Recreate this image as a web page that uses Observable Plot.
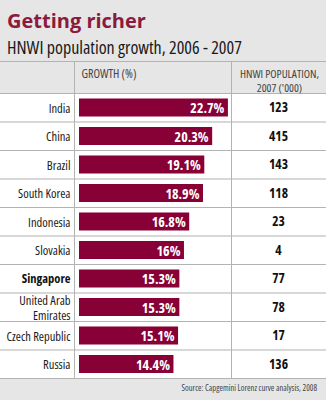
<!DOCTYPE html>
<html>
<head>
<meta charset="utf-8">
<script src="https://cdn.jsdelivr.net/npm/d3@7"></script>
<script src="https://cdn.jsdelivr.net/npm/@observablehq/plot@0.6"></script>
<style>
  html, body { margin: 0; padding: 0; background: #e6e6e6; }
  #wrap { width: 326px; height: 400px; position: relative; overflow: hidden; background: #e6e6e6; }
  #head { position: relative; height: 61px; border-bottom: 1px solid #b3b3b3; }
  #title { position: absolute; left: 7px; top: 10px; font: bold 20px/22px "Open Sans", sans-serif; color: #8b1a3d; white-space: nowrap; }
  #subtitle { position: absolute; left: 7px; top: 36px; font: 18px/22px "Open Sans", sans-serif; font-stretch: 75%; color: #1a1a1a; white-space: nowrap; }
  #chart svg { display: block; }
  #source { height: 21px; text-align: right; padding-right: 9px; font: 8.5px/17px "Open Sans", sans-serif; font-stretch: 75%; color: #444; }
</style>
</head>
<body>
<div id="wrap">
  <div id="head">
    <div id="title">Getting richer</div>
    <div id="subtitle">HNWI population growth, 2006 - 2007</div>
  </div>
  <div id="chart"></div>
  <div id="source">Source: Capgemini Lorenz curve analysis, 2008</div>
</div>
<script>
const countries = ["India", "China", "Brazil", "South Korea", "Indonesia", "Slovakia", "Singapore", "United Arab\nEmirates", "Czech Republic", "Russia"];
const growth = [22.7, 20.3, 19.1, 18.9, 16.8, 16, 15.3, 15.3, 15.1, 14.4];
const population = [123, 415, 143, 118, 23, 4, 77, 78, 17, 136];
const highlight = "Singapore";
const growthHeader = "GROWTH (%)";
const popHeader = "HNWI POPULATION,\n2007 ('000)";

const rows = countries.map((c, i) => ({i, country: c, growth: growth[i], pop: population[i]}));

const W = 326, H = 317;

const chart = Plot.plot({
  width: W,
  height: H,
  marginTop: 0, marginBottom: 0, marginLeft: 0, marginRight: 0,
  style: {background: "#e6e6e6", fontFamily: "'Open Sans', sans-serif", fontStretch: "75%", overflow: "visible"},
  x: {type: "linear", domain: [0, 25], range: [79, 79 + 25 * 6.56], axis: null},
  y: {type: "linear", domain: [0, countries.length], range: [31, 316], axis: null},
  marks: [
    Plot.rect(rows, {y1: d => d.i, y2: d => d.i + 1, fill: "white"}),
    Plot.ruleY(d3.range(countries.length + 1), {stroke: "#b3b3b3", strokeWidth: 1}),
    Plot.ruleX([0], {dx: -5, stroke: "#b3b3b3"}),
    Plot.ruleX([0], {dx: 152, stroke: "#b3b3b3"}),
    Plot.rect(rows, {x1: 0, x2: "growth", y1: d => d.i, y2: d => d.i + 1, fill: "#870036", insetTop: 5.5, insetBottom: 5}),
    Plot.text(rows, {x: "growth", y: d => d.i + 0.53, text: d => `${d.growth}%`, textAnchor: "end", dx: -4, fill: "white", fontWeight: "bold", fontSize: 14}),
    Plot.text(rows.filter(d => d.country !== highlight), {x: 0, y: d => d.i + 0.5, text: "country", textAnchor: "end", dx: -9, fill: "#1a1a1a", fontSize: 12.5, lineHeight: 1.2}),
    Plot.text(rows.filter(d => d.country === highlight), {x: 0, y: d => d.i + 0.5, text: "country", textAnchor: "end", dx: -9, fill: "#111", fontSize: 12.5, fontWeight: "bold"}),
    Plot.text(rows, {frameAnchor: "right", y: d => d.i + 0.5, text: "pop", textAnchor: "middle", dx: -48, fill: "#111", fontWeight: "bold", fontSize: 13.5}),
    Plot.text([growthHeader], {text: d => d, frameAnchor: "top-left", dx: 81, dy: 12, lineAnchor: "middle", textAnchor: "start", fill: "#444", fontSize: 12}),
    Plot.text([popHeader], {text: d => d, frameAnchor: "top-right", dx: -47, dy: 18, lineAnchor: "middle", textAnchor: "middle", lineHeight: 1.25, fill: "#444", fontSize: 11.5})
  ]
});
document.getElementById("chart").append(chart);
</script>
</body>
</html>
